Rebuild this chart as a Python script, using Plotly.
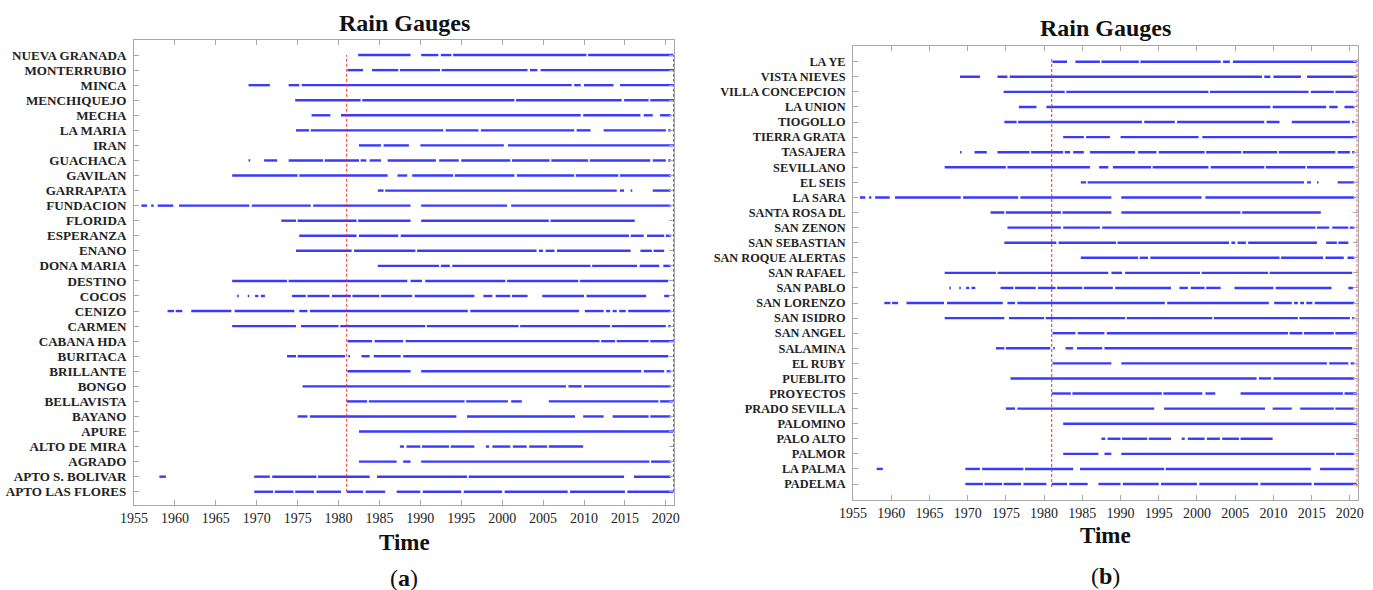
import plotly.graph_objects as go

# ---------------- data ----------------
YEAR_MIN, YEAR_MAX = 1955, 2021
x_ticks = list(range(1955, 2021, 5))
ref_years = [1981, 2020.95]

# data-availability periods (start year, end year) for each gauge
nueva_granada = [(1982.4, 1988.8), (1990.1, 1992.2), (1992.5, 1993.8), (1994.0, 2010.3), (2010.5, 2020.9)]
monterrubio = [(1981.1, 1983.0), (1984.1, 1987.3), (1987.5, 1992.4), (1992.6, 2003.1), (2003.4, 2004.3), (2004.7, 2020.9)]
minca = [(1969.0, 1971.6), (1973.9, 1975.2), (1975.5, 2008.5), (2008.8, 2009.6), (2010.0, 2013.6), (2014.4, 2020.9)]
menchiquejo = [(1974.7, 1982.7), (1982.9, 2001.5), (2001.7, 2014.6), (2014.9, 2017.9), (2018.1, 2020.9)]
mecha = [(1976.7, 1979.0), (1980.3, 2009.6), (2009.9, 2016.9), (2017.3, 2018.4), (2019.3, 2020.6)]
la_maria = [(1974.8, 1976.4), (1976.6, 1992.8), (1993.1, 1997.1), (1997.4, 2008.8), (2009.1, 2010.8), (2012.4, 2020.0), (2020.3, 2020.6)]
iran = [(1982.5, 1985.2), (1985.5, 1988.6), (1990.0, 2000.2), (2000.7, 2020.9)]
guachaca = [(1969.0, 1969.2), (1970.9, 1972.5), (1973.9, 1978.1), (1978.3, 1982.5), (1982.7, 1983.4), (1983.8, 1985.2),
            (1986.0, 1991.9), (1992.3, 1994.7), (1995.0, 2001.0), (2001.2, 2005.8), (2006.0, 2010.5), (2010.7, 2018.1),
            (2018.4, 2020.0), (2020.3, 2020.6)]
gavilan = [(1967.0, 1975.0), (1975.2, 1986.0), (1987.2, 1988.4), (1989.0, 1994.0), (1994.2, 2001.5), (2001.8, 2008.8),
           (2009.0, 2014.2), (2014.4, 2020.6)]
garrapata = [(1984.8, 1985.5), (1985.7, 2014.0), (2014.4, 2014.9), (2015.7, 2015.9), (2018.4, 2020.6)]
fundacion = [(1955.9, 1956.6), (1957.1, 1957.4), (1957.9, 1959.8), (1960.5, 1969.1), (1969.4, 1976.6), (1976.9, 1988.8),
             (1990.1, 2000.6), (2001.1, 2020.6)]
florida = [(1973.0, 1974.8), (1975.0, 1982.2), (1982.4, 1988.8), (1990.1, 2005.7), (2005.9, 2016.2)]
esperanza = [(1975.2, 1982.2), (1982.5, 1987.3), (1987.6, 2015.5), (2015.7, 2017.3), (2017.7, 2019.8), (2020.0, 2020.6)]
enano = [(1974.8, 1981.6), (1981.9, 1989.4), (1989.6, 2004.2), (2004.5, 2005.0), (2005.3, 2006.4), (2006.7, 2015.7),
         (2016.9, 2018.3), (2018.5, 2019.8)]
dona_maria = [(1984.8, 1992.3), (1992.5, 1993.6), (1993.9, 2010.8), (2011.0, 2016.5), (2016.8, 2019.2), (2019.7, 2020.6)]
destino = [(1967.0, 1973.7), (1973.9, 1988.4), (1988.8, 1990.2), (1990.6, 2000.4), (2000.6, 2009.3), (2009.5, 2020.3)]
cocos = [(1967.6, 1967.8), (1968.9, 1969.1), (1969.8, 1970.2), (1970.5, 1971.0), (1974.3, 1976.0), (1976.2, 1978.9),
         (1979.2, 1981.5), (1981.7, 1985.0), (1985.2, 1989.0), (1989.3, 1996.6), (1997.7, 1998.8), (1999.2, 2001.0),
         (2001.2, 2003.1), (2004.9, 2010.0), (2010.3, 2017.6), (2019.8, 2020.4)]
cenizo = [(1959.1, 1959.9), (1960.1, 1960.9), (1962.0, 1966.9), (1967.3, 1974.6), (1975.2, 1976.2), (1976.5, 1995.8),
          (1996.1, 2009.4), (2010.1, 2012.4), (2012.7, 2013.2), (2013.5, 2014.0), (2014.3, 2015.1), (2015.4, 2020.6)]
carmen = [(1967.0, 1974.8), (1975.4, 1980.0), (1980.2, 1990.6), (1990.8, 2002.0), (2002.2, 2013.2), (2013.4, 2020.0),
          (2020.3, 2020.6)]
cabana_hda = [(1981.1, 1984.1), (1984.4, 1987.9), (1988.2, 2011.9), (2012.1, 2013.8), (2014.0, 2017.9), (2018.1, 2020.9)]
buritaca = [(1973.7, 1974.8), (1975.0, 1980.8), (1981.2, 1981.4), (1982.8, 1983.8), (1984.3, 1987.6), (1987.9, 2020.3)]
brillante = [(1981.1, 1988.8), (1990.1, 2017.0), (2017.3, 2019.8), (2020.1, 2020.6)]
bongo = [(1975.6, 2007.8), (2008.1, 2009.7), (2010.0, 2020.6)]
bellavista = [(1981.0, 1983.5), (1983.7, 1995.4), (1995.6, 2000.7), (2001.1, 2002.4), (2005.7, 2019.1), (2019.3, 2020.9)]
bayano = [(1975.0, 1976.2), (1976.5, 1994.4), (1995.7, 2008.9), (2009.9, 2012.4), (2013.5, 2017.9), (2018.1, 2020.6)]
apure = [(1982.5, 2020.9)]
alto_de_mira = [(1987.5, 1988.0), (1988.3, 1990.0), (1990.2, 1993.5), (1993.7, 1996.6), (1998.0, 1998.4), (1998.8, 2001.0),
                (2001.3, 2003.0), (2003.3, 2005.5), (2005.7, 2009.9)]
agrado = [(1982.5, 1987.1), (1987.9, 1988.8), (1990.1, 2018.0), (2018.2, 2020.6)]
apto_s_bolivar = [(1958.1, 1958.9), (1969.7, 1971.6), (1971.9, 1977.3), (1977.5, 1983.8), (1984.7, 1995.7), (1995.9, 2014.9),
                  (2016.1, 2020.6)]
apto_las_flores = [(1969.7, 1972.0), (1972.2, 1974.5), (1974.7, 1977.0), (1977.3, 1980.3), (1981.0, 1983.0), (1983.3, 1985.7),
                   (1987.1, 1990.0), (1990.3, 1995.0), (1995.3, 2000.0), (2000.3, 2008.0), (2008.3, 2015.0), (2015.3, 2020.9)]

# panel (a): labels top-to-bottom
labels_a = ["NUEVA GRANADA", "MONTERRUBIO", "MINCA", "MENCHIQUEJO", "MECHA", "LA MARIA", "IRAN", "GUACHACA",
            "GAVILAN", "GARRAPATA", "FUNDACION", "FLORIDA", "ESPERANZA", "ENANO", "DONA MARIA", "DESTINO", "COCOS",
            "CENIZO", "CARMEN", "CABANA HDA", "BURITACA", "BRILLANTE", "BONGO", "BELLAVISTA", "BAYANO", "APURE",
            "ALTO DE MIRA", "AGRADO", "APTO S. BOLIVAR", "APTO LAS FLORES"]
periods_a = [nueva_granada, monterrubio, minca, menchiquejo, mecha, la_maria, iran, guachaca, gavilan, garrapata,
             fundacion, florida, esperanza, enano, dona_maria, destino, cocos, cenizo, carmen, cabana_hda, buritaca,
             brillante, bongo, bellavista, bayano, apure, alto_de_mira, agrado, apto_s_bolivar, apto_las_flores]

# panel (b): labels top-to-bottom (rows show the same records as rows 2..30 of panel a)
labels_b = ["LA YE", "VISTA NIEVES", "VILLA CONCEPCION", "LA UNION", "TIOGOLLO", "TIERRA GRATA", "TASAJERA",
            "SEVILLANO", "EL SEIS", "LA SARA", "SANTA ROSA DL", "SAN ZENON", "SAN SEBASTIAN", "SAN ROQUE ALERTAS",
            "SAN RAFAEL", "SAN PABLO", "SAN LORENZO", "SAN ISIDRO", "SAN ANGEL", "SALAMINA", "EL RUBY", "PUEBLITO",
            "PROYECTOS", "PRADO SEVILLA", "PALOMINO", "PALO ALTO", "PALMOR", "LA PALMA", "PADELMA"]
periods_b = periods_a[1:]

# ---------------- figure ----------------
W, H = 1373, 590
BLUE = "rgb(58,58,250)"
RED = "rgb(235,45,45)"
GRAY = "#a8a8a8"
SERIF = "Liberation Serif, Times New Roman, serif"

fig = go.Figure()

def add_panel(labels, periods, xa, ya):
    n = len(labels)
    for i, (lab, segs) in enumerate(zip(labels, periods)):
        yv = n - 1 - i
        xs, ys = [], []
        for s, e in segs:
            xs += [s, e, None]
            ys += [yv, yv, None]
        fig.add_trace(go.Scatter(x=xs, y=ys, mode="lines", xaxis=xa, yaxis=ya,
                                 line=dict(color=BLUE, width=2.4), hoverinfo="skip",
                                 showlegend=False, name=lab))

add_panel(labels_a, periods_a, "x", "y")
add_panel(labels_b, periods_b, "x2", "y2")

def px_x(p):
    return p / W

def px_y(p):
    return 1 - p / H

ax_common = dict(showline=True, linecolor=GRAY, linewidth=1, mirror="allticks", ticks="inside",
                 ticklen=5, tickcolor=GRAY, showgrid=False, zeroline=False, automargin=False)

na, nb = len(labels_a), len(labels_b)
fig.update_layout(
    width=W, height=H, margin=dict(l=0, r=0, t=0, b=0),
    paper_bgcolor="white", plot_bgcolor="white",
    xaxis=dict(domain=[px_x(134), px_x(674)], range=[YEAR_MIN, YEAR_MAX], tickvals=x_ticks,
               tickfont=dict(family=SERIF, size=14, color="#222"), anchor="y", **ax_common),
    yaxis=dict(domain=[px_y(505), px_y(40)], range=[-0.88, na], tickvals=list(range(na)),
               ticktext=["<b>%s</b>" % t for t in labels_a[::-1]], ticklabelstandoff=4,
               tickfont=dict(family=SERIF, size=13.1, color="#222"), anchor="x", **ax_common),
    xaxis2=dict(domain=[px_x(853), px_x(1357.5)], range=[YEAR_MIN, YEAR_MAX], tickvals=x_ticks,
                tickfont=dict(family=SERIF, size=14, color="#222"), anchor="y2", **ax_common),
    yaxis2=dict(domain=[px_y(500), px_y(46)], range=[-1.06, nb + 0.04], tickvals=list(range(nb)),
                ticktext=["<b>%s</b>" % t for t in labels_b[::-1]], ticklabelstandoff=4,
                tickfont=dict(family=SERIF, size=12.3, color="#222"), anchor="x2", **ax_common),
)

# reference (red dashed) lines
for yr in ref_years:
    fig.add_shape(type="line", xref="x", yref="y", x0=yr, x1=yr, y0=0, y1=na - 1, layer="above",
                  line=dict(color=RED, width=1, dash="3px,2px"))
    fig.add_shape(type="line", xref="x2", yref="y2", x0=yr, x1=yr, y0=-0.2, y1=nb - 0.8, layer="above",
                  line=dict(color=RED, width=1, dash="3px,2px"))

def text(x, y, s, size, bold=False):
    fig.add_annotation(x=px_x(x), y=px_y(y), xref="paper", yref="paper", text=("<b>%s</b>" % s) if bold else s,
                       showarrow=False, xanchor="center", yanchor="middle",
                       font=dict(family=SERIF, size=size, color="#111"))

text(404, 23, "Rain Gauges", 24, True)
text(1105, 28, "Rain Gauges", 24, True)
text(404, 542, "Time", 23, True)
text(1105, 535, "Time", 23, True)
text(404, 578, "(<b>a</b>)", 24)
text(1105, 576, "(<b>b</b>)", 24)

fig.write_html("out.html")
